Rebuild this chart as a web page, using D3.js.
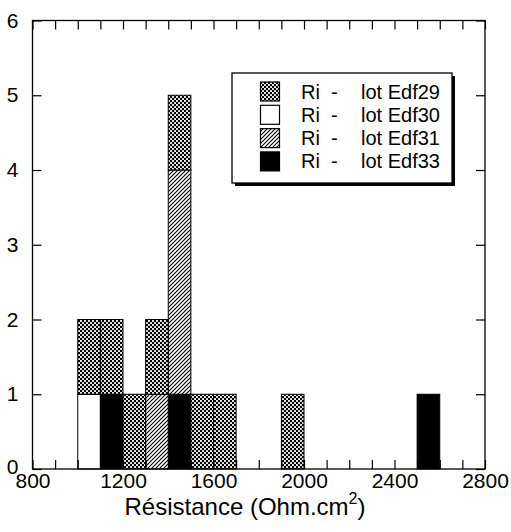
<!DOCTYPE html>
<html>
<head>
<meta charset="utf-8">
<script src="https://cdn.jsdelivr.net/npm/d3@7"></script>
<style>
  html, body { margin: 0; padding: 0; background: #fff; }
  svg { display: block; font-family: "Liberation Sans", Arial, sans-serif; }
</style>
</head>
<body>
<svg id="chart" width="511" height="532"></svg>
<script>
// Histogram bins (lower edge, width 100 Ohm.cm2)
const binStarts = [1000, 1100, 1200, 1300, 1400, 1500, 1600, 1700, 1800, 1900, 2000, 2100, 2200, 2300, 2400, 2500];
const binWidth = 100;
// counts per lot
const edf30 = [1, 0, 0, 0, 0, 0, 0, 0, 0, 0, 0, 0, 0, 0, 0, 0];
const edf33 = [0, 1, 0, 0, 1, 0, 0, 0, 0, 0, 0, 0, 0, 0, 0, 1];
const edf31 = [0, 0, 0, 1, 3, 0, 0, 0, 0, 0, 0, 0, 0, 0, 0, 0];
const edf29 = [1, 1, 1, 1, 1, 1, 1, 0, 0, 1, 0, 0, 0, 0, 0, 0];
const seriesKeys = ["Edf30", "Edf33", "Edf31", "Edf29"]; // stacking order, bottom to top
const legendKeys = ["Edf29", "Edf30", "Edf31", "Edf33"];
const legendLabels = ["Ri  -  lot Edf29", "Ri  -  lot Edf30", "Ri  -  lot Edf31", "Ri  -  lot Edf33"];
const xTickValues = [800, 900, 1000, 1100, 1200, 1300, 1400, 1500, 1600, 1700, 1800, 1900, 2000, 2100, 2200, 2300, 2400, 2500, 2600, 2700, 2800];
const xTickLabels = [800, 1200, 1600, 2000, 2400, 2800];
const yTickValues = [0, 1, 2, 3, 4, 5, 6];

const svg = d3.select("#chart");
const L = 32.5, R = 485, T = 20.5, B = 469;

const defs = svg.append("defs");
// cross-hatch / checker pattern for Edf29
const p29 = defs.append("pattern").attr("id", "pat29").attr("patternUnits", "userSpaceOnUse")
  .attr("width", 4).attr("height", 4);
p29.append("rect").attr("width", 4).attr("height", 4).attr("fill", "#000");
p29.append("circle").attr("cx", 1).attr("cy", 1).attr("r", 1.05).attr("fill", "#fff");
p29.append("circle").attr("cx", 3).attr("cy", 3).attr("r", 1.05).attr("fill", "#fff");
// diagonal hatch for Edf31
const p31 = defs.append("pattern").attr("id", "pat31").attr("patternUnits", "userSpaceOnUse")
  .attr("width", 4).attr("height", 4);
p31.append("rect").attr("width", 4).attr("height", 4).attr("fill", "#fff");
p31.append("path").attr("d", "M-1,1 L1,-1 M0,4 L4,0 M3,5 L5,3").attr("stroke", "#000").attr("stroke-width", 1.1);

const fills = { Edf29: "url(#pat29)", Edf30: "#fff", Edf31: "url(#pat31)", Edf33: "#000" };

const x = d3.scaleLinear().domain([800, 2800]).range([L, R]);
const y = d3.scaleLinear().domain([0, 6]).range([B, T]);

const table = binStarts.map((s, i) => ({ start: s, Edf30: edf30[i], Edf33: edf33[i], Edf31: edf31[i], Edf29: edf29[i] }));
const stacked = d3.stack().keys(seriesKeys)(table);

const gBars = svg.append("g");
stacked.forEach(layer => {
  gBars.selectAll(null).data(layer.filter(d => d[1] > d[0])).enter().append("rect")
    .attr("x", d => x(d.data.start))
    .attr("width", d => x(d.data.start + binWidth) - x(d.data.start))
    .attr("y", d => y(d[1]))
    .attr("height", d => y(d[0]) - y(d[1]))
    .attr("fill", fills[layer.key])
    .attr("stroke", "#000")
    .attr("stroke-width", 1);
});

// axes
const fmtX = d => xTickLabels.includes(d) ? d : "";
const axB = svg.append("g").attr("transform", `translate(0,${B})`)
  .call(d3.axisBottom(x).tickValues(xTickValues).tickSizeInner(-9).tickSizeOuter(0).tickPadding(4).tickFormat(fmtX));
const axT = svg.append("g").attr("transform", `translate(0,${T})`)
  .call(d3.axisTop(x).tickValues(xTickValues).tickSizeInner(-9).tickSizeOuter(0).tickFormat(""));
const axL = svg.append("g").attr("transform", `translate(${L},0)`)
  .call(d3.axisLeft(y).tickValues(yTickValues).tickSizeInner(-9).tickSizeOuter(0).tickPadding(14).tickFormat(d3.format("d")));
const axR = svg.append("g").attr("transform", `translate(${R},0)`)
  .call(d3.axisRight(y).tickValues(yTickValues).tickSizeInner(-9).tickSizeOuter(0).tickFormat(""));
[axB, axT, axL, axR].forEach(g => {
  g.select(".domain").remove();
  g.selectAll("line").attr("stroke", "#000").attr("stroke-width", 1.2);
  g.selectAll("text").attr("font-size", 21).attr("fill", "#000").attr("font-family", "Liberation Sans, Arial, sans-serif");
});
axL.selectAll(".tick").filter(d => d === 0).select("text").attr("dy", "0.2em");

svg.append("rect").attr("x", L).attr("y", T).attr("width", R - L).attr("height", B - T)
  .attr("fill", "none").attr("stroke", "#000").attr("stroke-width", 1.3);

// x axis title
const title = svg.append("text").attr("x", 245).attr("y", 515).attr("text-anchor", "middle")
  .attr("font-size", 24).attr("fill", "#000");
title.append("tspan").text("Résistance (Ohm.cm");
title.append("tspan").attr("font-size", 16).attr("dy", -11).text("2");
title.append("tspan").attr("dy", 11).text(")");

// legend
const lg = svg.append("g");
lg.append("rect").attr("x", 235).attr("y", 76).attr("width", 220).attr("height", 110).attr("fill", "#000");
lg.append("rect").attr("x", 232).attr("y", 73).attr("width", 220).attr("height", 110)
  .attr("fill", "#fff").attr("stroke", "#000").attr("stroke-width", 1.3);
legendKeys.forEach((k, i) => {
  const yy = 82 + i * 23.3;
  lg.append("rect").attr("x", 260.5).attr("y", yy).attr("width", 19).attr("height", 19)
    .attr("fill", fills[k]).attr("stroke", "#000").attr("stroke-width", 1.2);
  const parts = legendLabels[i].split(/\s+-\s+/);
  lg.append("text").attr("x", 301).attr("y", yy + 16.5).attr("font-size", 20).text(parts[0]);
  lg.append("text").attr("x", 331).attr("y", yy + 16.5).attr("font-size", 20).text("-");
  lg.append("text").attr("x", 361).attr("y", yy + 16.5).attr("font-size", 20).text(parts[1]);
});
</script>
</body>
</html>
